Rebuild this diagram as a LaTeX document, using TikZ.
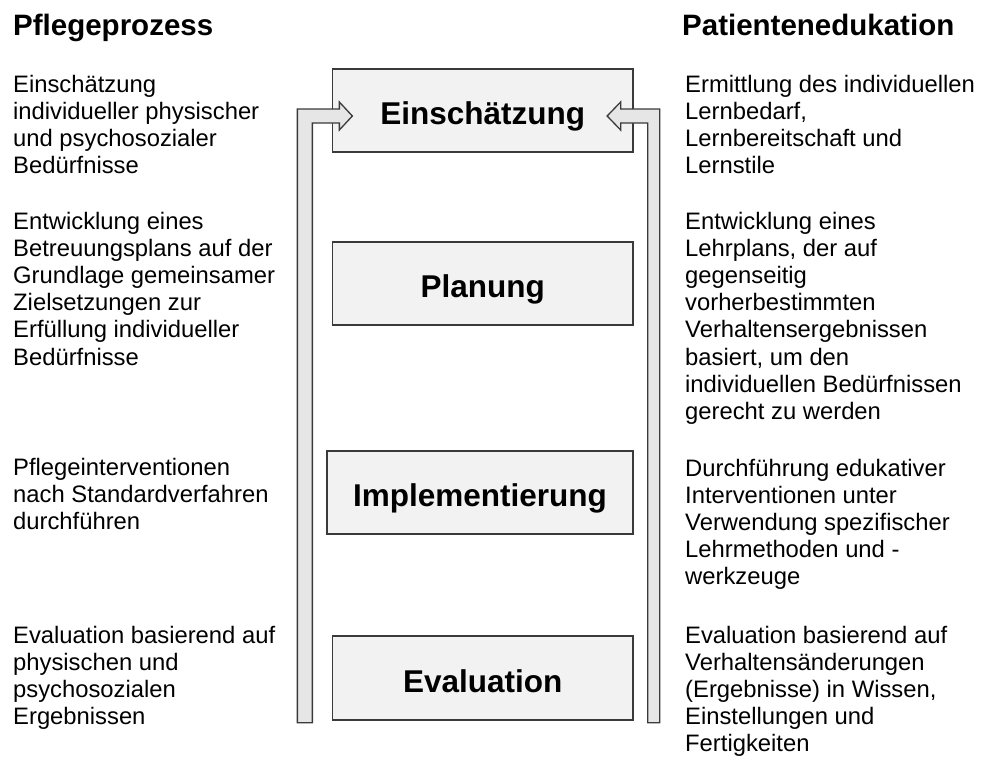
\documentclass[tikz,border=0pt]{standalone}
\usepackage{fontspec}
\setmainfont{Liberation Sans}
\usetikzlibrary{calc}
\definecolor{boxfill}{HTML}{F2F2F2}
\definecolor{barfill}{HTML}{E6E6E6}
\definecolor{edge}{HTML}{3A3A3A}
% left-aligned block of lines whose baseline is that of its first line
\newcommand\stackedtext[1]{\begin{tabular}[t]{@{}l@{}}#1\end{tabular}}
\begin{document}
\begin{tikzpicture}[x=1pt,y=-1pt,
  stage/.style={draw=edge, fill=boxfill, line width=1.3pt, inner sep=0pt,
    minimum width=300.5pt, minimum height=83pt, text height=28pt, text depth=0pt,
    font=\fontsize{31.5}{36}\selectfont\bfseries},
  heading/.style={anchor=base west, inner sep=0pt, font=\fontsize{29.5}{34}\selectfont\bfseries},
  body/.style={anchor=base west, inner sep=0pt, font=\fontsize{23.8}{27.2}\selectfont},
  bararrow/.style={draw=edge, fill=barfill, line width=1.3pt, line join=miter}]
\useasboundingbox (0,0) rectangle (986,758);

% process stages
\node[stage] (eins) at (482.75,110.5) {Einschätzung};
\node[stage] (plan) at (482.75,283.5) {Planung};
\node[stage, minimum width=306pt] (impl) at (480,492.5) {Implementierung};
\node[stage, minimum height=84pt] (eval) at (482.75,678) {Evaluation};

% feedback arrows back to the first stage
\coordinate (tipL) at ($(eins.west)+(20.5,5.5)$);
\coordinate (footL) at ($(eval.south west)+(-34.5,2)$);
\draw[bararrow] (footL) |- ($(tipL)+(-13,-7)$) -- ++(0,-7) -- (tipL) -- ++(-13,14) -- ++(0,-7) -| ($(footL)+(15,0)$) -- cycle;

\coordinate (tipR) at ($(eins.east)+(-26.5,5.5)$);
\coordinate (footR) at ($(eval.south east)+(26,2)$);
\draw[bararrow] (footR) |- ($(tipR)+(13.5,-7)$) -- ++(0,-7) -- (tipR) -- ++(13.5,14) -- ++(0,-7) -| ($(footR)+(-12,0)$) -- cycle;

% column headings
\node[heading] (hl) at (13,35) {Pflegeprozess};
\node[heading] (hr) at (682,35) {Patientenedukation};

% nursing process descriptions
\node[body] (l1) at (13,92) {\stackedtext{Einschätzung\\individueller physischer\\und psychosozialer\\Bedürfnisse}};
\node[body] (l2) at (13,229) {\stackedtext{Entwicklung eines\\Betreuungsplans auf der\\Grundlage gemeinsamer\\Zielsetzungen zur\\Erfüllung individueller\\Bedürfnisse}};
\node[body] (l3) at (13,475) {\stackedtext{Pflegeinterventionen\\nach Standardverfahren\\durchführen}};
\node[body] (l4) at (13,643) {\stackedtext{Evaluation basierend auf\\physischen und\\psychosozialen\\Ergebnissen}};

% patient education descriptions
\node[body] (r1) at (685,92) {\stackedtext{Ermittlung des individuellen\\Lernbedarf,\\Lernbereitschaft und\\Lernstile}};
\node[body] (r2) at (685,229) {\stackedtext{Entwicklung eines\\Lehrplans, der auf\\gegenseitig\\vorherbestimmten\\Verhaltensergebnissen\\basiert, um den\\individuellen Bedürfnissen\\gerecht zu werden}};
\node[body] (r3) at (685,476) {\stackedtext{Durchführung edukativer\\Interventionen unter\\Verwendung spezifischer\\Lehrmethoden und -\\werkzeuge}};
\node[body] (r4) at (685,643) {\stackedtext{Evaluation basierend auf\\Verhaltensänderungen\\(Ergebnisse) in Wissen,\\Einstellungen und\\Fertigkeiten}};
\end{tikzpicture}
\end{document}
